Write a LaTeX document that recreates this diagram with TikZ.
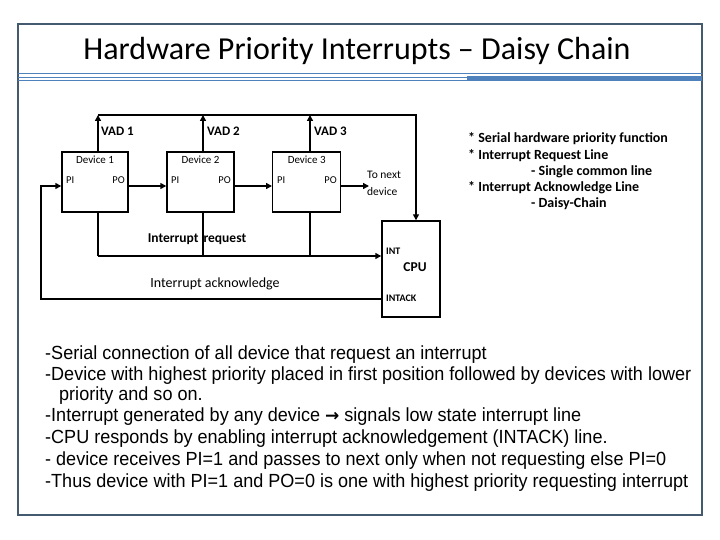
\documentclass[tikz,border=0pt]{standalone}
\usepackage{fontspec}
\setmainfont{Carlito}
\newfontfamily\bodyfont[FakeStretch=0.95]{Liberation Sans}
\newfontfamily\symfont{DejaVu Sans}
\usetikzlibrary{arrows.meta}
\definecolor{framec}{RGB}{68,90,110}
\definecolor{rulec}{RGB}{79,129,189}
\tikzset{
  wire/.style={line width=1.4pt, black},
  arr/.style={wire, -{Triangle[length=6pt,width=6pt]}},
  devbox/.style={draw, line width=1.4pt, minimum height=60pt, inner sep=0pt},
  devlab/.style={font=\fontsize{11}{13}\selectfont, inner sep=0pt},
  pinlab/.style={font=\fontsize{10.5}{12}\selectfont, inner sep=0pt},
  nextlab/.style={font=\fontsize{11.5}{13}\selectfont, inner sep=0pt, anchor=west},
  vadlab/.style={font=\bfseries\fontsize{13}{15}\selectfont, anchor=west, inner sep=0pt},
  sigl/.style={font=\fontsize{14}{16}\selectfont, inner sep=0pt},
  cpul/.style={font=\bfseries\fontsize{10}{12}\selectfont, anchor=west, inner sep=0pt},
  notel/.style={font=\bfseries\fontsize{14}{16}\selectfont, anchor=west, inner sep=0pt},
  bodyl/.style={font=\bodyfont\fontsize{19}{21}\selectfont, anchor=west, inner sep=0pt},
}
\begin{document}
\begin{tikzpicture}[x=1pt,y=-1pt]
\useasboundingbox (0,0) rectangle (720,540);
% frame
\draw[framec, line width=1.6pt] (18,24) rectangle (702,515);
\draw[rulec, line width=1pt] (18,74) -- (702,74);
\draw[rulec, line width=1pt] (18,77.2) -- (467,77.2);
\draw[rulec, line width=1pt] (18,80.3) -- (467,80.3);
\fill[rulec] (467,76.3) rectangle (702,81.2);
% title
\node[font=\fontsize{32}{36}\selectfont] (title) at (357,51) {Hardware Priority Interrupts -- Daisy Chain};
% devices
\node[devbox, minimum width=66pt] (d1) at (95,182) {};
\node[devbox, minimum width=67pt] (d2) at (200.5,182) {};
\node[devbox, minimum width=68pt] (d3) at (306.7,182) {};
\node[devbox, minimum width=58pt, minimum height=96pt] (cpu) at (411,269) {};
% device labels
\node[devlab] (d1l) at (95,160) {Device 1};
\node[devlab] (d2l) at (200.5,160) {Device 2};
\node[devlab] (d3l) at (306.7,160) {Device 3};
\foreach \d/\xl/\xr in {1/66/125,2/171/231,3/277/337}{
  \node[pinlab, anchor=west] (pi\d) at (\xl,180) {PI};
  \node[pinlab, anchor=east] (po\d) at (\xr,180) {PO};
}
% VAD bus
\coordinate (v1) at (98,115);
\coordinate (v2) at (203,115);
\coordinate (v3) at (310,115);
\coordinate (vr) at (416,115);
\draw[arr] (d1.north -| v1) -- (v1);
\draw[arr] (d2.north -| v2) -- (v2);
\draw[arr] (d3.north -| v3) -- (v3);
\draw[wire] (v1) -- (v3);
\draw[arr] (v3) -- (vr) -- (cpu.north -| vr);
\node[vadlab] (vad1) at (101,131) {VAD 1};
\node[vadlab] (vad2) at (207,131) {VAD 2};
\node[vadlab] (vad3) at (314,131) {VAD 3};
% chain PI/PO
\coordinate (next) at (369,186);
\coordinate (ackl) at (41,186);
\draw[arr] (d1.east |- ackl) -- (d2.west |- ackl);
\draw[arr] (d2.east |- ackl) -- (d3.west |- ackl);
\draw[arr] (d3.east |- ackl) -- (next);
\node[nextlab] (tonext) at (367,175) {To next};
\node[nextlab] (tonext2) at (367,192) {device};
% interrupt request line
\coordinate (r1) at (98,256);
\coordinate (r2) at (203,256);
\coordinate (r3) at (310,256);
\draw[wire] (d1.south -| r1) -- (r1);
\draw[wire] (d2.south -| r2) -- (r2);
\draw[wire] (d3.south -| r3) -- (r3);
\draw[arr] (r1) -- (cpu.west |- r1);
\node[sigl, font=\bfseries\fontsize{13.5}{15}\selectfont] (irq) at (197,239) {Interrupt\hspace{5pt}request};
% interrupt acknowledge
\coordinate (a0) at (41,299);
\draw[arr] (cpu.west |- a0) -- (a0) -- (ackl) -- (d1.west |- ackl);
\node[sigl] (iack) at (215,284) {Interrupt acknowledge};
% CPU labels
\node[cpul] (int) at (386,251) {INT};
\node[font=\bfseries\fontsize{13.5}{15}\selectfont, inner sep=0pt] (cpulab) at (415,267) {CPU};
\node[cpul] (intack) at (386,298) {INTACK};
% notes
\node[notel] (n1) at (468,139) {* Serial hardware priority function};
\node[notel] (n2) at (468,156) {* Interrupt Request Line};
\node[notel] (n3) at (531,172) {- Single common line};
\node[notel] (n4) at (468,188) {* Interrupt Acknowledge Line};
\node[notel] (n5) at (531,204) {- Daisy-Chain};
% body text
\node[bodyl] (b1) at (45,355) {-Serial connection of all device that request an interrupt};
\node[bodyl] (b2) at (45,376) {-Device with highest priority placed in first position followed by devices with lower};
\node[bodyl] (b3) at (59,396) {priority and so on.};
\node[bodyl] (b4) at (45,417) {-Interrupt generated by any device {\symfont\bfseries\fontsize{17}{17}\selectfont →} signals low state interrupt line};
\node[bodyl] (b5) at (45,439) {-CPU responds by enabling interrupt acknowledgement (INTACK) line.};
\node[bodyl] (b6) at (45,461) {- device receives PI=1 and passes to next only when not requesting else PI=0};
\node[bodyl] (b7) at (45,483) {-Thus device with PI=1 and PO=0 is one with highest priority requesting interrupt};
\end{tikzpicture}
\end{document}
